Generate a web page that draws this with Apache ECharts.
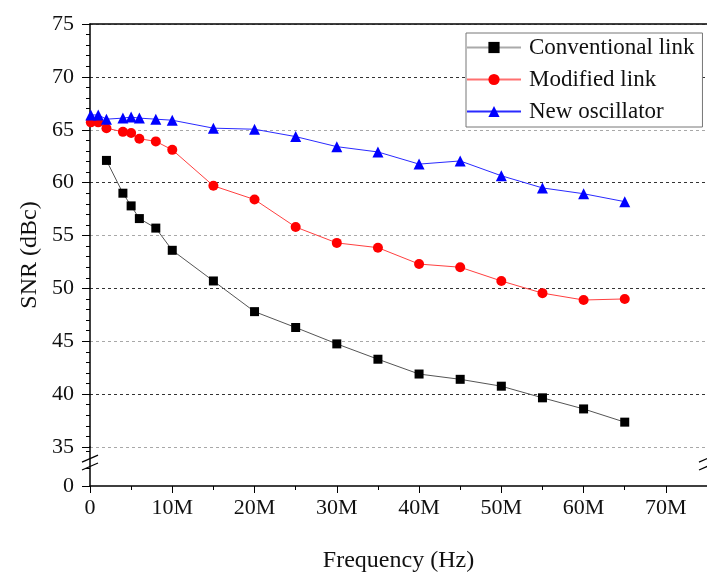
<!DOCTYPE html>
<html><head><meta charset="utf-8">
<script src="https://cdn.jsdelivr.net/npm/echarts@6/dist/echarts.min.js"></script>
<style>html,body{margin:0;padding:0;background:#fff}#c{width:707px;height:577px}</style>
</head><body><div id="c"></div>
<script>
// Frequencies in MHz
const seriesNames = ['Conventional link', 'Modified link', 'New oscillator'];
const convFreq = [2, 4, 5, 6, 8, 10, 15, 20, 25, 30, 35, 40, 45, 50, 55, 60, 65];
const convSNR  = [62.1, 59.0, 57.8, 56.6, 55.7, 53.6, 50.7, 47.8, 46.3, 44.75, 43.3, 41.9, 41.4, 40.75, 39.65, 38.6, 37.35];
const modFreq  = [0.1, 1, 2, 4, 5, 6, 8, 10, 15, 20, 25, 30, 35, 40, 45, 50, 55, 60, 65];
const modSNR   = [65.7, 65.7, 65.15, 64.8, 64.7, 64.15, 63.9, 63.1, 59.7, 58.4, 55.8, 54.3, 53.85, 52.3, 52.0, 50.7, 49.55, 48.9, 49.0];
const oscFreq  = [0.1, 1, 2, 4, 5, 6, 8, 10, 15, 20, 25, 30, 35, 40, 45, 50, 55, 60, 65];
const oscSNR   = [66.4, 66.4, 66.0, 66.1, 66.2, 66.1, 66.0, 65.9, 65.15, 65.05, 64.35, 63.4, 62.9, 61.75, 62.05, 60.65, 59.5, 58.95, 58.2];
const xTicks = [0, 10, 20, 30, 40, 50, 60, 70];

const FONT = 'Liberation Serif';
const pairs = (xs, ys) => xs.map((x, i) => [x, ys[i]]);

const chart = echarts.init(document.getElementById('c'), null, {renderer: 'canvas'});
const axisLine = {show: true, lineStyle: {color: '#000', width: 1.5}};
const option = {
  backgroundColor: '#fff',
  animation: false,
  grid: [
    {left: 90, width: 619, top: 24, height: 423},
    {left: 90, width: 619, top: 447, height: 39}
  ],
  xAxis: [
    {gridIndex: 0, type: 'value', min: 0, max: 75, interval: 10, position: 'top',
     axisLine: axisLine, axisTick: {show: false}, axisLabel: {show: false}, splitLine: {show: false}},
    {gridIndex: 1, type: 'value', min: 0, max: 75, interval: 10, position: 'bottom',
     axisLine: axisLine,
     axisTick: {show: true, inside: false, length: 7, lineStyle: {color: '#000', width: 1}},
     minorTick: {show: true, splitNumber: 2, length: 4, lineStyle: {color: '#000', width: 1}},
     axisLabel: {show: true, margin: 11, color: '#111', fontFamily: FONT, fontSize: 22, showMaxLabel: false,
       formatter: v => (xTicks.indexOf(v) < 0 ? '' : (v === 0 ? '0' : v + 'M'))},
     splitLine: {show: false},
     name: 'Frequency (Hz)', nameLocation: 'middle', nameGap: 63,
     nameTextStyle: {fontFamily: FONT, fontSize: 24, color: '#111'}}
  ],
  yAxis: [
    {gridIndex: 0, type: 'value', min: 35, max: 75, interval: 5,
     axisLine: axisLine,
     axisTick: {show: true, inside: false, length: 8, lineStyle: {color: '#000', width: 1}},
     minorTick: {show: true, splitNumber: 5, length: 4, lineStyle: {color: '#000', width: 1}},
     axisLabel: {margin: 16, color: '#111', fontFamily: FONT, fontSize: 22},
     splitLine: {show: true, lineStyle: {type: [3, 3], width: 1, color: ['#a8a8a8', '#333']}}},
    {gridIndex: 1, type: 'value', min: 0, max: 3.7, interval: 5,
     axisLine: axisLine,
     axisTick: {show: true, inside: false, length: 8, lineStyle: {color: '#000', width: 1}},
     minorTick: {show: true, splitNumber: 3, length: 4, lineStyle: {color: '#000', width: 1}},
     axisLabel: {margin: 16, color: '#111', fontFamily: FONT, fontSize: 22, showMaxLabel: false,
       formatter: v => (v === 0 ? '0' : '')},
     splitLine: {show: false}}
  ],
  legend: {
    show: true, orient: 'vertical', left: 466, top: 33, width: 235,
    backgroundColor: '#fff', borderColor: '#777', borderWidth: 1,
    padding: [3, 8, 4, 0], itemGap: 9, itemWidth: 54, itemHeight: 14,
    textStyle: {fontFamily: FONT, fontSize: 23, color: '#111', lineHeight: 22, padding: [0, 0, 0, 3]},
    data: [
      {name: seriesNames[0], lineStyle: {color: '#aaa'}},
      {name: seriesNames[1], lineStyle: {color: '#ff7070'}},
      {name: seriesNames[2], lineStyle: {color: '#2a2aff'}}
    ]
  },
  series: [
    {name: seriesNames[0], type: 'line', xAxisIndex: 0, yAxisIndex: 0, data: pairs(convFreq, convSNR),
     symbol: 'rect', symbolSize: 9, itemStyle: {color: '#000'}, lineStyle: {color: '#555', width: 1}},
    {name: seriesNames[1], type: 'line', xAxisIndex: 0, yAxisIndex: 0, data: pairs(modFreq, modSNR),
     symbol: 'circle', symbolSize: 10, itemStyle: {color: '#ff0000'}, lineStyle: {color: '#ff4040', width: 1}},
    {name: seriesNames[2], type: 'line', xAxisIndex: 0, yAxisIndex: 0, data: pairs(oscFreq, oscSNR),
     symbol: 'triangle', symbolSize: 11, itemStyle: {color: '#0000ff'}, lineStyle: {color: '#2a2aff', width: 1}}
  ]
};
chart.setOption(option);

// axis break marks and y-axis title, positioned through the axes
const leftX = chart.convertToPixel({xAxisIndex: 1}, 0);
const rightX = chart.convertToPixel({xAxisIndex: 1}, 75);
const yA = chart.convertToPixel({yAxisIndex: 1}, 2.6);
const yB = chart.convertToPixel({yAxisIndex: 1}, 1.85);
const yTop = chart.convertToPixel({yAxisIndex: 0}, 75);
const yBot = chart.convertToPixel({yAxisIndex: 1}, 0);
function slash(cx, cy) {
  return {type: 'line', shape: {x1: cx - 8, y1: cy + 3.5, x2: cx + 8, y2: cy - 3.5},
          style: {stroke: '#000', lineWidth: 1.2}, z: 100};
}
chart.setOption({graphic: [
  slash(leftX, yA), slash(leftX, yB), slash(rightX, yA), slash(rightX, yB),
  {type: 'text', x: 30, y: (yTop + yBot) / 2, rotation: Math.PI / 2,
   style: {text: 'SNR (dBc)', font: '24px "Liberation Serif"', fill: '#111', align: 'center', verticalAlign: 'middle'}}
]});
</script></body></html>
